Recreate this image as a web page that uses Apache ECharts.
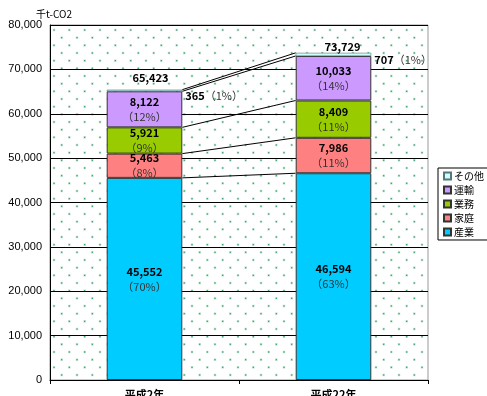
<!DOCTYPE html>
<html>
<head>
<meta charset="utf-8">
<script src="https://cdn.jsdelivr.net/npm/echarts@6/dist/echarts.min.js"></script>
<style>
  html, body { margin: 0; padding: 0; background: #fff; }
  #chart { width: 487px; height: 396px; }
</style>
</head>
<body>
<div id="chart"></div>
<script>
// Categories (years) and sector emissions, 千t-CO2
const years = ['平成2年', '平成22年'];
const sangyo = [45552, 46594];   // 産業
const katei  = [5463, 7986];     // 家庭
const gyomu  = [5921, 8409];     // 業務
const unyu   = [8122, 10033];    // 運輸
const sonota = [365, 707];       // その他

// Shares of total, %
const sangyoPct = [70, 63];
const kateiPct  = [8, 11];
const gyomuPct  = [9, 11];
const unyuPct   = [12, 14];
const sonotaPct = [1, 1];

// Value axis
const yMin = 0, yMax = 80000, yStep = 10000;

const FONT = "'Noto Sans CJK JP', 'Liberation Sans', sans-serif";
const BAR_RATIO = 0.4;

// Dotted plot background
function dotTile() {
  const size = 46, step = size / 3;
  const c = document.createElement('canvas');
  c.width = size; c.height = size;
  const g = c.getContext('2d');
  g.fillStyle = '#fff';
  g.fillRect(0, 0, size, size);
  const x0 = 8, y0 = 30 % step;
  const dot = (x, y) => {
    g.fillStyle = 'rgba(60,170,110,0.35)';
    g.fillRect(x - 1.2, y - 1.2, 2.4, 2.4);
    g.fillStyle = 'rgba(40,150,95,0.9)';
    g.fillRect(x - 0.6, y - 0.6, 1.2, 1.2);
  };
  for (let i = -2; i <= 4; i++) {
    for (let j = -2; j <= 4; j++) {
      dot(x0 + i * step, y0 + j * step);
      dot(x0 + i * step + step / 2, y0 + j * step + step / 2);
    }
  }
  return c;
}

const series = [
  { name: '産業', vals: sangyo, pct: sangyoPct, color: '#00ccff' },
  { name: '家庭', vals: katei, pct: kateiPct, color: '#ff8080' },
  { name: '業務', vals: gyomu, pct: gyomuPct, color: '#99cc00' },
  { name: '運輸', vals: unyu, pct: unyuPct, color: '#cc99ff' },
  { name: 'その他', vals: sonota, pct: sonotaPct, color: '#ccffff' }
];

const fmt = v => v.toLocaleString('en-US');

// Cumulative tops of each stacked segment, per year
const cum = years.map(() => 0);
const boundaries = series.map(s => {
  s.vals.forEach((v, i) => { cum[i] += v; });
  return cum.slice();
});
const totals = cum.slice();

const richStyle = {
  v: { fontFamily: FONT, fontSize: 11, fontWeight: 'bold', color: '#000', lineHeight: 15 },
  p: { fontFamily: FONT, fontSize: 11, color: '#333', lineHeight: 15 }
};

const barSeries = series.map((s) => {
  const small = s.name === 'その他';
  return {
    name: s.name,
    type: 'bar',
    stack: 'total',
    barWidth: (BAR_RATIO * 100) + '%',
    itemStyle: { color: s.color, borderColor: small ? '#557777' : '#333', borderWidth: small ? 0.6 : 1 },
    label: small ? {
      show: true,
      position: 'right',
      distance: 3,
      offset: [0, 5],
      formatter: p => '{v|' + fmt(p.value) + '}{p|（' + s.pct[p.dataIndex] + '%）}',
      rich: richStyle
    } : {
      show: true,
      position: 'inside',
      formatter: p => '{v|' + fmt(p.value) + '}\n{p|（' + s.pct[p.dataIndex] + '%）}',
      rich: richStyle
    },
    data: s.vals,
    z: 3
  };
});

// Lines linking matching segment tops between the two bars
const connectorSeries = {
  type: 'custom',
  silent: true,
  z: 4,
  encode: { x: 0, y: 1 },
  data: boundaries.map(b => [0, b[0], b[1]]),
  renderItem: (params, api) => {
    const a = api.coord([0, api.value(1)]);
    const b = api.coord([1, api.value(2)]);
    const bw = api.size([1, 0])[0] * BAR_RATIO;
    return {
      type: 'line',
      shape: { x1: a[0] + bw / 2, y1: a[1], x2: b[0] - bw / 2, y2: b[1] },
      style: { stroke: '#000', lineWidth: 1 }
    };
  }
};

// Grand totals above each bar
const totalShift = [[6, -6], [9, -1]];
const totalSeries = {
  type: 'custom',
  silent: true,
  z: 5,
  encode: { x: 0, y: 1 },
  data: totals.map((t, i) => [i, t]),
  renderItem: (params, api) => {
    const i = params.dataIndex;
    const p = api.coord([api.value(0), api.value(1)]);
    return {
      type: 'text',
      x: p[0] + totalShift[i][0],
      y: p[1] + totalShift[i][1],
      style: {
        text: fmt(api.value(1)),
        fontFamily: FONT,
        fontSize: 11,
        fontWeight: 'bold',
        fill: '#000',
        align: 'center',
        verticalAlign: 'bottom'
      }
    };
  }
};

const chart = echarts.init(document.getElementById('chart'), null, { renderer: 'canvas' });
chart.setOption({
  animation: false,
  backgroundColor: '#fff',
  grid: {
    left: 50, right: 59, top: 25, bottom: 16,
    outerBoundsMode: 'none',
    containLabel: false,
    show: true,
    backgroundColor: { image: dotTile(), repeat: 'repeat' },
    borderColor: '#999',
    borderWidth: 1
  },
  graphic: [{
    type: 'text',
    left: 36, top: 9,
    style: { text: '千t-CO2', fontFamily: FONT, fontSize: 10, fill: '#000' }
  }],
  legend: {
    orient: 'vertical',
    left: 438, top: 168,
    data: ['その他', '運輸', '業務', '家庭', '産業'],
    icon: 'rect',
    itemWidth: 7, itemHeight: 7,
    itemGap: 4,
    padding: [3, 4, 3, 5],
    borderColor: '#000', borderWidth: 1,
    backgroundColor: '#fff',
    textStyle: { fontFamily: FONT, fontSize: 10, color: '#000', padding: [0, 0, 0, -2] }
  },
  xAxis: {
    type: 'category',
    data: years,
    axisLine: { lineStyle: { color: '#000', width: 1 } },
    axisTick: { show: true, length: 4, lineStyle: { color: '#000' } },
    axisLabel: { margin: 9, fontFamily: FONT, fontSize: 11, fontWeight: 'bold', color: '#000' }
  },
  yAxis: {
    type: 'value',
    min: yMin, max: yMax, interval: yStep,
    axisLine: { show: true, lineStyle: { color: '#000', width: 1 } },
    axisTick: { show: false },
    splitLine: { lineStyle: { color: '#000', width: 1 } },
    axisLabel: {
      margin: 8,
      fontFamily: "'Liberation Sans', Arial, sans-serif",
      fontSize: 11,
      color: '#000',
      formatter: v => fmt(v)
    }
  },
  series: [...barSeries, connectorSeries, totalSeries]
});
</script>
</body>
</html>
